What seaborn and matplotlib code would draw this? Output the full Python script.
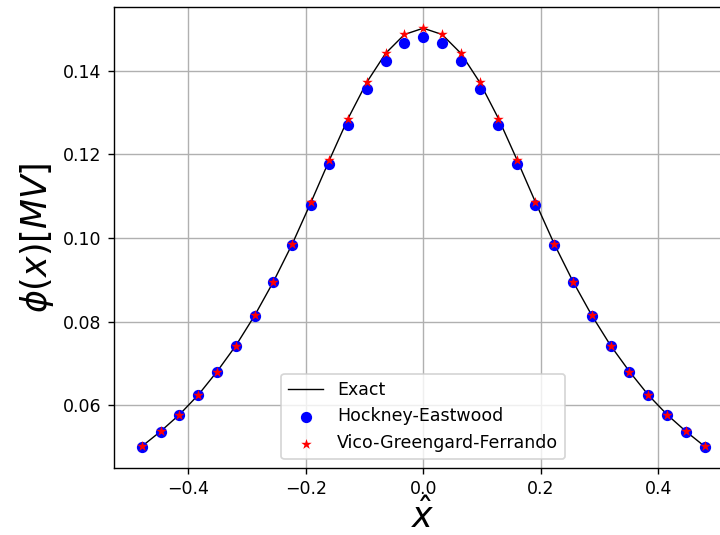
import matplotlib
matplotlib.use("Agg")
import matplotlib.pyplot as plt
import seaborn as sns
import pandas as pd

# x positions (grid points)
x_left = [-0.479, -0.447, -0.415, -0.383, -0.351, -0.319, -0.287, -0.255,
          -0.223, -0.191, -0.160, -0.128, -0.096, -0.064, -0.032]
x_vals = x_left + [0.0] + [-v for v in reversed(x_left)]

# Vico-Greengard-Ferrando values (left half + centre), mirrored
vgf_left = [0.0502, 0.0538, 0.0578, 0.0625, 0.0681, 0.0743, 0.0815, 0.0896,
            0.0986, 0.1086, 0.1186, 0.1286, 0.1373, 0.1442, 0.1487]
vgf_centre = 0.1502
vgf_vals = vgf_left + [vgf_centre] + list(reversed(vgf_left))

# Hockney-Eastwood values
he_left = [0.0501, 0.0537, 0.0577, 0.0624, 0.0680, 0.0742, 0.0814, 0.0894,
           0.0984, 0.1080, 0.1178, 0.1270, 0.1357, 0.1424, 0.1466]
he_centre = 0.1481
he_vals = he_left + [he_centre] + list(reversed(he_left))

# Exact solution
exact_vals = vgf_vals

df = pd.DataFrame({"x": x_vals, "exact": exact_vals, "he": he_vals, "vgf": vgf_vals})

fig = plt.figure(figsize=(5.76, 4.28), dpi=125)
ax = fig.add_axes([0.158, 0.1258, 0.8597, 0.8606])

sns.lineplot(data=df, x="x", y="exact", ax=ax, color="black", linewidth=0.8,
             label="Exact", sort=True)
sns.scatterplot(data=df, x="x", y="he", ax=ax, color="blue", marker="o", s=42,
                linewidth=0, label="Hockney-Eastwood", zorder=3)
sns.scatterplot(data=df, x="x", y="vgf", ax=ax, color="red", marker="*", s=40,
                linewidth=0, label="Vico-Greengard-Ferrando", zorder=4)

ax.grid(True, color="#b0b0b0", linewidth=0.8)
ax.set_axisbelow(True)
ax.set_xticks([-0.4, -0.2, 0.0, 0.2, 0.4])
ax.set_yticks([0.06, 0.08, 0.10, 0.12, 0.14])
ax.tick_params(labelsize=10)
ax.set_xlabel(r"$\hat{x}$", fontsize=20, labelpad=0)
ax.set_ylabel(r"$\phi(x)[MV]$", fontsize=20)
ax.legend(loc="lower center", fontsize=10)

fig.savefig("out.png", dpi=125)
